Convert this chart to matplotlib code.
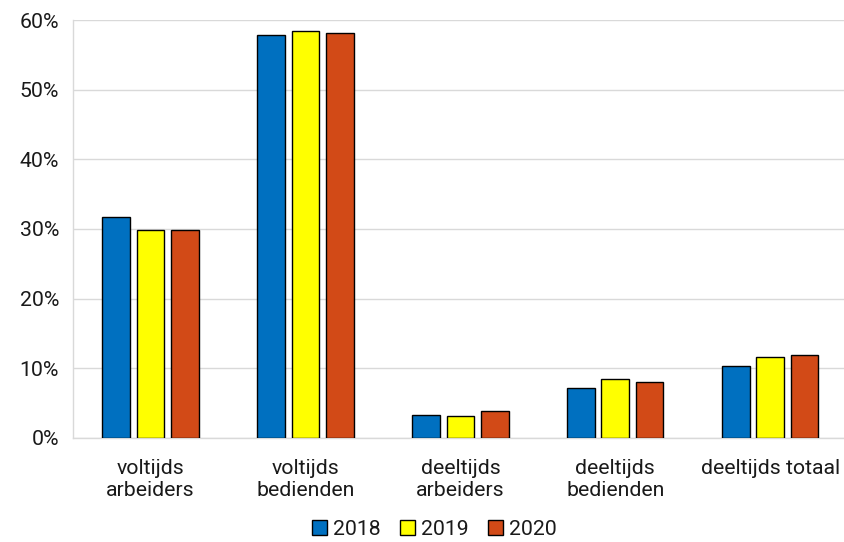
import numpy as np
import matplotlib
matplotlib.use("Agg")
import matplotlib.pyplot as plt
from matplotlib.ticker import PercentFormatter

plt.rcParams['font.family'] = ['Roboto', 'DejaVu Sans']

categories = ["voltijds\narbeiders", "voltijds\nbedienden", "deeltijds\narbeiders",
              "deeltijds\nbedienden", "deeltijds totaal"]
years = ["2018", "2019", "2020"]
v2018 = [31.7, 57.9, 3.3, 7.1, 10.4]
v2019 = [29.9, 58.5, 3.1, 8.5, 11.6]
v2020 = [29.9, 58.2, 3.9, 8.0, 11.9]
colors = ["#0070c0", "#ffff00", "#d24a17"]

fs = 15.3
fig = plt.figure(figsize=(8.44, 5.42), dpi=100)
ax = fig.add_axes([0.0865, 0.192, 0.918, 0.771])

x = np.arange(len(categories))
step = 0.221
width = 0.179
for i, (vals, c, y) in enumerate(zip([v2018, v2019, v2020], colors, years)):
    ax.bar(x + (i - 1) * step, vals, width, color=c, edgecolor="black",
           linewidth=1, label=y, zorder=3)

ax.set_xlim(-0.5, len(categories) - 0.5)
ax.set_ylim(0, 60)
ax.set_yticks(range(0, 61, 10))
ax.yaxis.set_major_formatter(PercentFormatter(decimals=0))
ax.grid(axis="y", color="#d9d9d9", linewidth=1, zorder=0)
ax.set_xticks(x)
ax.set_xticklabels(categories, fontsize=fs, color="#1a1a1a", linespacing=1.2)
ax.tick_params(axis="y", labelsize=fs, colors="#1a1a1a", length=0, pad=10)
ax.tick_params(axis="x", length=0, pad=15)
for s in ["top", "right"]:
    ax.spines[s].set_visible(False)
for s in ["left", "bottom"]:
    ax.spines[s].set_color("#d9d9d9")
    ax.spines[s].set_linewidth(1)

leg = fig.legend(loc="lower center", bbox_to_anchor=(0.515, -0.03), ncol=3,
                 frameon=False, fontsize=fs, handlelength=0.7, handleheight=0.7,
                 handletextpad=0.3, columnspacing=0.9)
for t in leg.get_texts():
    t.set_color("#1a1a1a")

fig.savefig("out.png", dpi=100)
